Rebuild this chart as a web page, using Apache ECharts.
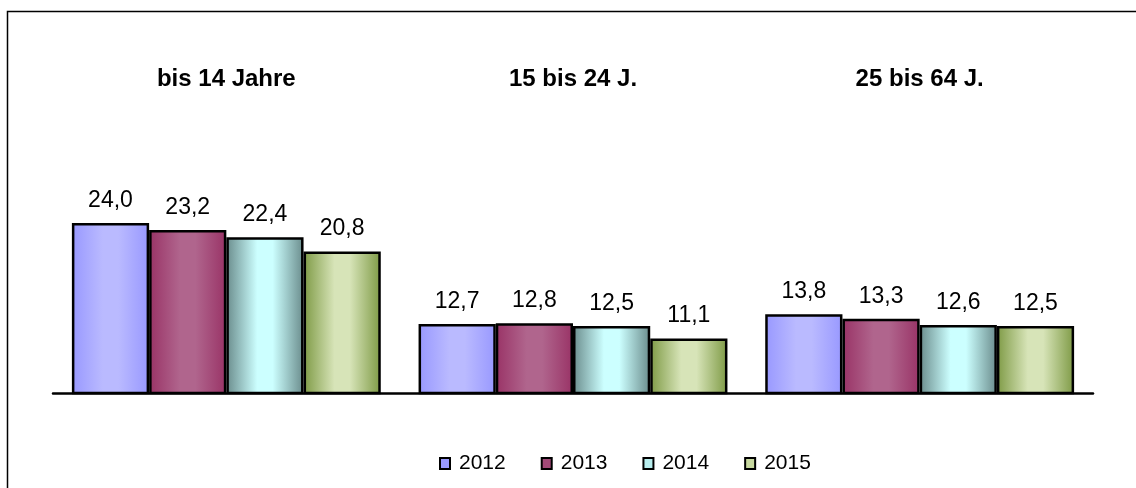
<!DOCTYPE html>
<html>
<head>
<meta charset="utf-8">
<script src="https://cdn.jsdelivr.net/npm/echarts@6/dist/echarts.min.js"></script>
<style>
  html, body { margin: 0; padding: 0; background: #fff; }
  #chart { width: 1136px; height: 488px; }
</style>
</head>
<body>
<div id="chart"></div>
<script>
const categories = ['bis 14 Jahre', '15 bis 24 J.', '25 bis 64 J.']
const years = ['2012', '2013', '2014', '2015']
const values2012 = [24.0, 12.7, 13.8]
const values2013 = [23.2, 12.8, 13.3]
const values2014 = [22.4, 12.5, 12.6]
const values2015 = [20.8, 11.1, 12.5]

const font = "'Liberation Sans', Arial, sans-serif"

// cylinder-like shading, light in the middle
function shade (edge, mid) {
  return new echarts.graphic.LinearGradient(0, 0, 1, 0, [
    { offset: 0, color: edge },
    { offset: 0.4, color: mid },
    { offset: 0.6, color: mid },
    { offset: 1, color: edge }
  ])
}

const styles = [
  { fill: shade('#9898ff', '#babaff'), flat: '#9999ff' },
  { fill: shade('#993366', '#b0658d'), flat: '#a34a78' },
  { fill: shade('#6a8c8c', '#ccffff'), flat: '#b8eeee' },
  { fill: shade('#7e9a45', '#d7e4b8'), flat: '#c8d9a0' }
]

const seriesValues = [values2012, values2013, values2014, values2015]

const chart = echarts.init(document.getElementById('chart'))
chart.setOption({
  animation: false,
  graphic: [{
    type: 'rect',
    shape: { x: 7.5, y: 11.5, width: 1300, height: 600 },
    style: { fill: 'none', stroke: '#000', lineWidth: 1.5 },
    silent: true
  }],
  grid: { left: 53, right: 43, top: 35, bottom: 95 },
  legend: {
    left: 434,
    top: 448,
    icon: 'rect',
    itemWidth: 10,
    itemHeight: 11,
    itemGap: 35,
    textStyle: { fontFamily: font, fontSize: 21, color: '#000', padding: [0, 0, 0, 4] },
    data: years.map((y, i) => ({
      name: y,
      itemStyle: { color: styles[i].flat, borderColor: '#000', borderWidth: 2 }
    }))
  },
  xAxis: [
    {
      type: 'category',
      data: categories,
      position: 'bottom',
      axisLine: { lineStyle: { color: '#000', width: 2.5 } },
      axisTick: { show: false },
      axisLabel: { show: false }
    },
    {
      type: 'category',
      data: categories,
      position: 'top',
      offset: -56,
      axisLine: { show: false },
      axisTick: { show: false },
      axisLabel: {
        margin: 0,
        fontFamily: font,
        fontSize: 24,
        fontWeight: 'bold',
        color: '#000'
      }
    }
  ],
  yAxis: {
    type: 'value',
    min: 5,
    max: 45,
    show: false,
    splitLine: { show: false }
  },
  series: years.map((y, i) => ({
    name: y,
    type: 'bar',
    xAxisIndex: 0,
    data: seriesValues[i],
    barGap: '0%',
    barCategoryGap: '10.9%',
    itemStyle: { color: styles[i].fill, borderColor: '#000', borderWidth: 2.5 },
    label: {
      show: true,
      position: 'top',
      distance: 11,
      fontFamily: font,
      fontSize: 23,
      color: '#000',
      formatter: p => p.value.toFixed(1).replace('.', ',')
    }
  }))
})
</script>
</body>
</html>
